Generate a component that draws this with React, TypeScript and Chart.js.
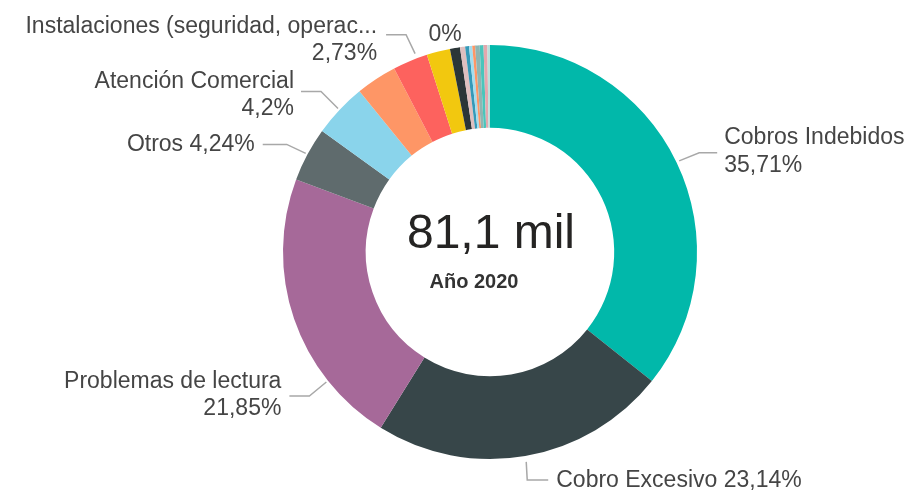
import React, { useEffect, useRef } from "react";
import { Chart, registerables } from "chart.js";

Chart.register(...registerables);

// ---- data ----
const categories: string[] = [
  "Cobros Indebidos",
  "Cobro Excesivo",
  "Problemas de lectura",
  "Otros",
  "Atención Comercial",
  "Corte y reposición",
  "Instalaciones (seguridad, operac...",
  "Calidad del agua",
  "Medidores",
  "Alcantarillado",
  "Presión",
  "Facturación",
  "Convenios",
  "Reparaciones",
  "Conexiones",
  "Trámites",
  "Daños",
  "Sin clasificar",
];

const values: number[] = [
  35.71, 23.14, 21.85, 4.24, 4.2, 3.2, 2.73, 1.83, 0.78, 0.4, 0.3, 0.25, 0.22,
  0.35, 0.3, 0.3, 0.2, 0,
];

const colors: string[] = [
  "#01B8AA",
  "#374649",
  "#A66999",
  "#5F6B6D",
  "#8AD4EB",
  "#FE9666",
  "#FD625E",
  "#F2C80F",
  "#2B3638",
  "#DFBFBF",
  "#3599B8",
  "#A4DDEE",
  "#FE9666",
  "#8FB5B2",
  "#4AC5BB",
  "#E3A8AE",
  "#B9E1DD",
  "#CCCCCC",
];

const centerValue = "81,1 mil";
const centerCaption = "Año 2020";

// ---- label layout (leader lines / text placement) ----
type LabelLayout = {
  index: number;
  frac: number;
  rOff: number;
  elbow: [number, number];
  len: number;
  side: "left" | "right" | "none";
  oneLine: boolean;
  dys: number[];
  textGap: number;
};

const labelLayouts: LabelLayout[] = [
  { index: 0, frac: 0.5, rOff: 3, elbow: [20, -8], len: 18, side: "right", oneLine: false, dys: [-15, 13], textGap: 7 },
  { index: 1, frac: 0.5, rOff: 6, elbow: [1, 18], len: 21, side: "right", oneLine: true, dys: [1], textGap: 8 },
  { index: 2, frac: 0.25, rOff: 2, elbow: [-17, 14], len: 20, side: "left", oneLine: false, dys: [-14, 13], textGap: 8 },
  { index: 3, frac: 0.5, rOff: 2, elbow: [-19, -9], len: 24, side: "left", oneLine: true, dys: [0], textGap: 8 },
  { index: 4, frac: 0.5, rOff: 2, elbow: [-17, -17], len: 20, side: "left", oneLine: false, dys: [-10, 17], textGap: 7 },
  { index: 6, frac: 0.7, rOff: 5, elbow: [-9, -19], len: 20, side: "left", oneLine: false, dys: [-8, 19], textGap: 9 },
  { index: 17, frac: 0.5, rOff: 0, elbow: [0, 0], len: 0, side: "none", oneLine: true, dys: [-10], textGap: 0 },
];

const LABEL_FONT = '23px "Liberation Sans", Arial, sans-serif';
const LABEL_COLOR = "#454545";
const LINE_COLOR = "#a8a8a8";

function fmtPct(v: number, total: number): string {
  const p = Math.round((v / total) * 10000) / 100;
  return String(p).split(".").join(",") + "%";
}

const labelPlugin = {
  id: "pbiLabels",
  afterDraw(chart: any) {
    const ctx: CanvasRenderingContext2D = chart.ctx;
    const meta = chart.getDatasetMeta(0);
    const data: number[] = chart.data.datasets[0].data;
    const total = data.reduce((a, b) => a + b, 0);
    const first = meta.data[0];
    const cx = first.x;
    const cy = first.y;

    ctx.save();
    ctx.font = LABEL_FONT;
    ctx.fillStyle = LABEL_COLOR;
    ctx.textBaseline = "middle";

    for (const L of labelLayouts) {
      const arc = meta.data[L.index];
      const p = arc.getProps(["startAngle", "endAngle", "outerRadius"], true);
      const ang = p.startAngle + (p.endAngle - p.startAngle) * L.frac;
      const r = p.outerRadius + L.rOff;
      const ax = cx + Math.cos(ang) * r;
      const ay = cy + Math.sin(ang) * r;
      const pct = fmtPct(data[L.index], total);
      const name = chart.data.labels[L.index];

      if (L.side === "none") {
        ctx.textAlign = "center";
        ctx.fillText(pct, ax - 45, ay + L.dys[0]);
        continue;
      }

      const ex = ax + L.elbow[0];
      const ey = ay + L.elbow[1];
      const dir = L.side === "right" ? 1 : -1;
      const endX = ex + dir * L.len;

      ctx.strokeStyle = LINE_COLOR;
      ctx.lineWidth = 1.5;
      ctx.beginPath();
      ctx.moveTo(ax, ay);
      ctx.lineTo(ex, ey);
      ctx.lineTo(endX, ey);
      ctx.stroke();

      const tx = endX + dir * L.textGap;
      ctx.textAlign = L.side === "right" ? "left" : "right";
      if (L.oneLine) {
        ctx.fillText(name + " " + pct, tx, ey + L.dys[0]);
      } else {
        ctx.fillText(name, tx, ey + L.dys[0]);
        ctx.fillText(pct, tx, ey + L.dys[1]);
      }
    }

    // center text
    ctx.textAlign = "center";
    ctx.fillStyle = "#252423";
    ctx.font = '48px "Liberation Sans", Arial, sans-serif';
    ctx.fillText(centerValue, cx + 1, cy - 17);
    ctx.font = 'bold 20px "Liberation Sans", Arial, sans-serif';
    ctx.fillStyle = "#333333";
    ctx.fillText(centerCaption, cx - 16, cy + 30);
    ctx.restore();
  },
};

export default function App() {
  const canvasRef = useRef<HTMLCanvasElement | null>(null);

  useEffect(() => {
    if (!canvasRef.current) return;
    const chart = new Chart(canvasRef.current, {
      type: "doughnut",
      data: {
        labels: categories,
        datasets: [
          {
            data: values,
            backgroundColor: colors,
            borderWidth: 0,
          },
        ],
      },
      options: {
        animation: false,
        responsive: true,
        maintainAspectRatio: false,
        cutout: "60%",
        layout: { padding: { left: 283, right: 220, top: 45, bottom: 36 } },
        plugins: {
          legend: { display: false },
          tooltip: { enabled: false },
        },
      },
      plugins: [labelPlugin],
    });
    return () => chart.destroy();
  }, []);

  return (
    <div
      style={{
        position: "absolute",
        left: 0,
        top: 0,
        width: 917,
        height: 495,
        background: "#ffffff",
      }}
    >
      <canvas ref={canvasRef} />
    </div>
  );
}
